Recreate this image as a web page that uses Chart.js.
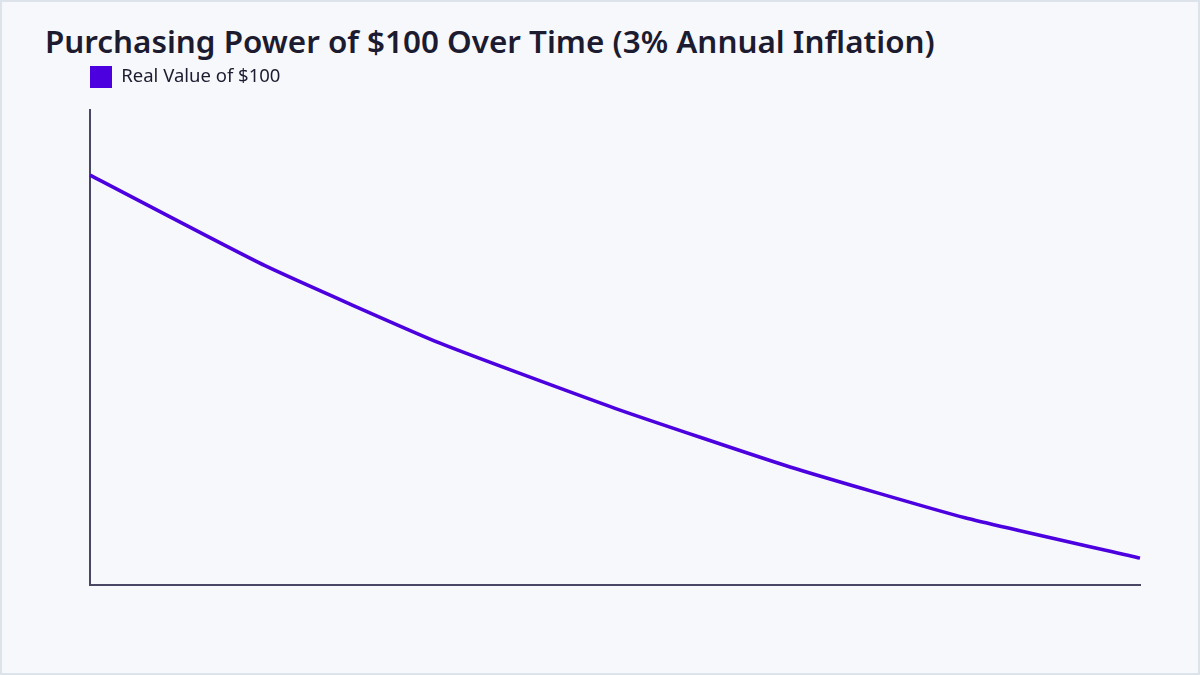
<!DOCTYPE html>
<html>
<head>
<meta charset="utf-8">
<script src="https://cdn.jsdelivr.net/npm/chart.js@4.4.1/dist/chart.umd.min.js"></script>
<style>
  html, body { margin: 0; padding: 0; width: 1200px; height: 675px; overflow: hidden; background: #f7f8fc; }
  #wrap { position: absolute; left: 0; top: 0; width: 1200px; height: 675px; box-sizing: border-box;
          border: 2px solid #dde3ea; background: #f7f8fc; }
  #title { position: absolute; left: 45px; top: 20px; margin: 0;
           font-family: "Noto Sans", sans-serif; font-weight: 600; font-size: 31.4px; line-height: 42px;
           color: #1c1b30; white-space: nowrap; }
  #cv { position: absolute; left: 0; top: 0; }
</style>
</head>
<body>
<div id="wrap"></div>
<h1 id="title">Purchasing Power of $100 Over Time (3% Annual Inflation)</h1>
<canvas id="cv" width="1200" height="675"></canvas>
<script>
const years = ["Year 0", "Year 5", "Year 10", "Year 15", "Year 20", "Year 25", "Year 30"];
const realValue = [100, 86.1, 74.2, 64.2, 55.2, 47.4, 41.2];
const seriesLabel = "Real Value of $100";

const lineColor = "#4c00e0";
const axisColor = "#4a4766";

const legendGap = {
  id: "legendGap",
  beforeLayout(chart) {
    const lg = chart.legend;
    if (lg && !lg._gapPatched) {
      const orig = lg.fit.bind(lg);
      lg.fit = function () { orig(); this.height += 12; };
      lg._gapPatched = true;
    }
  }
};

new Chart(document.getElementById("cv"), {
  type: "line",
  data: {
    labels: years,
    datasets: [{
      label: seriesLabel,
      data: realValue,
      borderColor: lineColor,
      backgroundColor: lineColor,
      borderWidth: 3.5,
      pointRadius: 0,
      tension: 0.15,
      fill: false
    }]
  },
  plugins: [legendGap],
  options: {
    responsive: false,
    animation: false,
    layout: { padding: { left: 90, right: 60, top: 66, bottom: 90 } },
    plugins: {
      legend: {
        display: true,
        position: "top",
        align: "start",
        labels: {
          boxWidth: 22,
          boxHeight: 22,
          padding: 0,
          color: "#1c1b30",
          font: { family: "Noto Sans", size: 18.5 },
          generateLabels: (chart) =>
            Chart.defaults.plugins.legend.labels.generateLabels(chart)
              .map(l => Object.assign(l, { lineWidth: 0 }))
        }
      },
      title: { display: false },
      tooltip: { enabled: false }
    },
    scales: {
      x: {
        offset: false,
        grid: { display: false, drawTicks: false },
        ticks: { display: false },
        border: { display: true, color: axisColor, width: 2 }
      },
      y: {
        min: 37.08,
        max: 110,
        grid: { display: false, drawTicks: false },
        ticks: { display: false },
        border: { display: true, color: axisColor, width: 2 }
      }
    }
  }
});
</script>
</body>
</html>
